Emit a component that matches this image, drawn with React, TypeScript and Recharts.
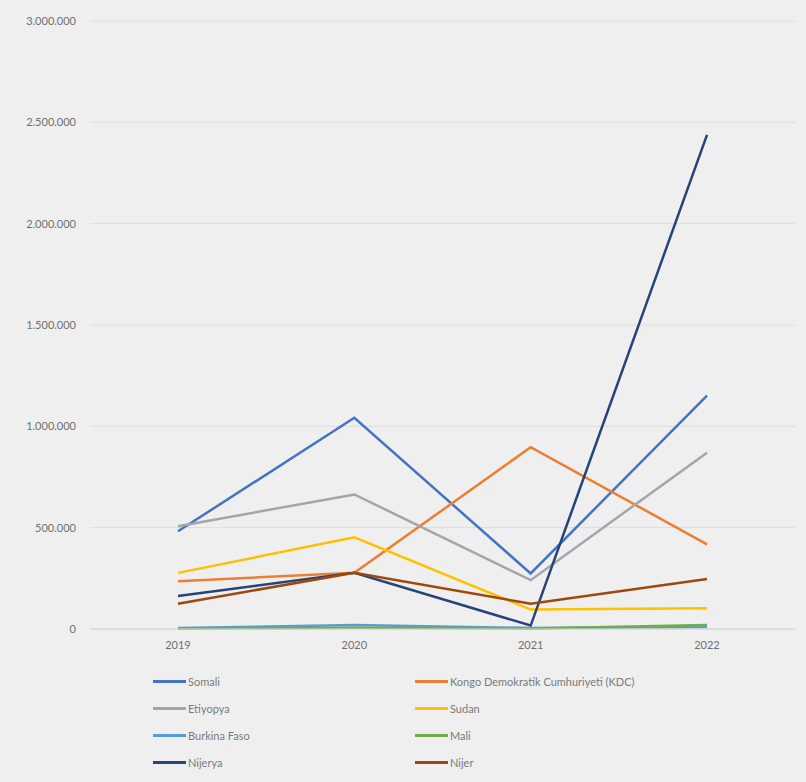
import { LineChart, Line, XAxis, YAxis, CartesianGrid } from "recharts";

const years = ["2019", "2020", "2021", "2022"];

const somali = [482000, 1042000, 274000, 1152000];
const kdc = [236000, 277000, 897000, 418000];
const etiyopya = [507000, 664000, 241000, 870000];
const sudan = [277000, 452000, 96000, 102000];
const burkinaFaso = [5000, 20000, 5000, 10000];
const mali = [3000, 6000, 3000, 20000];
const nijerya = [163000, 277000, 17000, 2438000];
const nijer = [125000, 277000, 125000, 247000];

const yTicks = [0, 500000, 1000000, 1500000, 2000000, 2500000, 3000000];

const series = [
    { key: "somali", name: "Somali", color: "#4472C4", values: somali },
    { key: "kdc", name: "Kongo Demokratik Cumhuriyeti (KDC)", color: "#ED7D31", values: kdc },
    { key: "etiyopya", name: "Etiyopya", color: "#A5A5A5", values: etiyopya },
    { key: "sudan", name: "Sudan", color: "#FFC000", values: sudan },
    { key: "burkina", name: "Burkina Faso", color: "#5B9BD5", values: burkinaFaso },
    { key: "mali", name: "Mali", color: "#70AD47", values: mali },
    { key: "nijerya", name: "Nijerya", color: "#264478", values: nijerya },
    { key: "nijer", name: "Nijer", color: "#9E480E", values: nijer },
];

const data = years.map((year, i) => {
    const row: any = { year };
    series.forEach((s) => {
        row[s.key] = s.values[i];
    });
    return row;
});

const fmt = (v: number) => v.toString().replace(/\B(?=(\d{3})+(?!\d))/g, ".");

const FONT = "Lato, 'Open Sans', sans-serif";

function LegendGrid() {
    return (
        <div
            style={{
                position: "absolute",
                top: 672,
                left: 0,
                display: "grid",
                gridTemplateColumns: "262px 300px",
                rowGap: 9,
                paddingLeft: 153,
                fontFamily: FONT,
                fontSize: 11,
                color: "#7a7a7a",
            }}
        >
            {series.map((s) => (
                <div key={s.key} style={{ display: "flex", alignItems: "center", height: 18 }}>
                    <span
                        style={{
                            display: "inline-block",
                            width: 33,
                            height: 3,
                            background: s.color,
                            marginRight: 2,
                        }}
                    />
                    <span>{s.name}</span>
                </div>
            ))}
        </div>
    );
}

export default function App() {
    return (
        <div
            style={{
                position: "fixed",
                left: 0,
                top: 0,
                width: 806,
                height: 782,
                background: "#efefef",
            }}
        >
            <LineChart
                width={806}
                height={782}
                data={data}
                margin={{ top: 21, right: 11, left: 0, bottom: 123 }}
            >
                <CartesianGrid vertical={false} stroke="#dcdcdc" strokeWidth={1} />
                <XAxis
                    dataKey="year"
                    padding={{ left: 88, right: 88 }}
                    axisLine={{ stroke: "#d6d6d6" }}
                    tickLine={false}
                    tickMargin={6}
                    height={30}
                    tick={{ fill: "#6f6f6f", fontSize: 11, fontFamily: FONT }}
                />
                <YAxis
                    domain={[0, 3000000]}
                    ticks={yTicks}
                    tickFormatter={fmt}
                    width={90}
                    axisLine={false}
                    tickLine={false}
                    tickMargin={8}
                    tick={{ fill: "#6f6f6f", fontSize: 11, fontFamily: FONT }}
                />
                {series.map((s) => (
                    <Line
                        key={s.key}
                        dataKey={s.key}
                        name={s.name}
                        stroke={s.color}
                        strokeWidth={2.5}
                        dot={false}
                        activeDot={false}
                        isAnimationActive={false}
                    />
                ))}
            </LineChart>
            <LegendGrid />
        </div>
    );
}
